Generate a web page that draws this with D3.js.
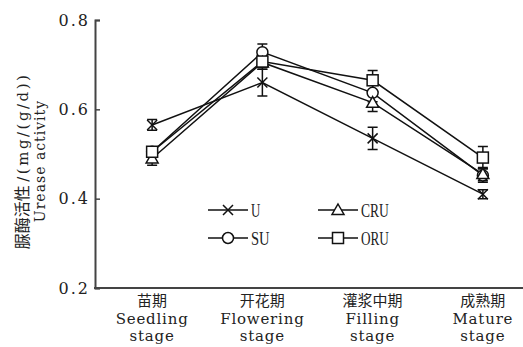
<!DOCTYPE html>
<html>
<head>
<meta charset="utf-8">
<script src="https://cdn.jsdelivr.net/npm/d3@7"></script>
<style>
  body { margin: 0; background: #fff; }
  text { fill: #222; }
</style>
</head>
<body>
<svg id="chart"></svg>
<script>
// data
const stagesCn = ["苗期", "开花期", "灌浆中期", "成熟期"];
const stagesEn1 = ["Seedling", "Flowering", "Filling", "Mature"];
const stagesEn2 = ["stage", "stage", "stage", "stage"];
const seriesNames = ["U", "SU", "CRU", "ORU"];
const valU = [0.565, 0.660, 0.535, 0.410];
const errU = [0.012, 0.030, 0.025, 0.010];
const valSU = [0.505, 0.728, 0.637, 0.452];
const errSU = [0.010, 0.018, 0.020, 0.015];
const valCRU = [0.490, 0.705, 0.615, 0.455];
const errCRU = [0.015, 0.015, 0.020, 0.015];
const valORU = [0.505, 0.707, 0.665, 0.492];
const errORU = [0.010, 0.012, 0.022, 0.025];
const yTicks = [0.2, 0.4, 0.6, 0.8];

const W = 523, H = 347;
const svg = d3.select("#chart").attr("width", W).attr("height", H);

const x = d3.scalePoint().domain(stagesCn).range([97, 538]).padding(0.5);
const y = d3.scaleLinear().domain([0.2, 0.8]).range([288, 20]);

const latin = "'DejaVu Serif', serif";
const cjk = "'Noto Sans CJK SC', sans-serif";

// axes
const yAxis = svg.append("g")
  .attr("transform", "translate(95,0)")
  .call(d3.axisLeft(y).tickValues(yTicks).tickSize(-5).tickPadding(5)
    .tickFormat(d3.format(".1f")));
yAxis.select(".domain").attr("stroke", "#444").attr("stroke-width", 2);
yAxis.selectAll(".tick line").attr("stroke", "#444").attr("stroke-width", 1.5);
yAxis.selectAll(".tick text")
  .attr("font-family", latin).attr("font-size", 16).attr("letter-spacing", 2)
  .attr("fill", "#222");

svg.append("line")
  .attr("x1", 94).attr("x2", W).attr("y1", y(0.2)).attr("y2", y(0.2))
  .attr("stroke", "#444").attr("stroke-width", 2);

// x labels
const xl = svg.append("g");
stagesCn.forEach((s, i) => {
  const cx = x(s);
  xl.append("text").attr("x", cx).attr("y", 306).attr("text-anchor", "middle")
    .attr("font-family", cjk).attr("font-size", 15).text(s);
  xl.append("text").attr("x", cx).attr("y", 324).attr("text-anchor", "middle")
    .attr("font-family", latin).attr("font-size", 15).attr("letter-spacing", 0.8).text(stagesEn1[i]);
  xl.append("text").attr("x", cx).attr("y", 341).attr("text-anchor", "middle")
    .attr("font-family", latin).attr("font-size", 15).attr("letter-spacing", 0.8).text(stagesEn2[i]);
});

// y label
const yl = svg.append("g").attr("transform", "translate(0,161) rotate(-90)");
const t1 = yl.append("text").attr("x", 0).attr("y", 28).attr("text-anchor", "middle");
t1.append("tspan").attr("font-family", cjk).attr("font-size", 16).text("脲酶活性 ");
t1.append("tspan").attr("font-family", latin).attr("font-size", 15).attr("letter-spacing", 2.5).text("/(mg/(g/d))");
yl.append("text").attr("x", 0).attr("y", 45).attr("text-anchor", "middle")
  .attr("font-family", latin).attr("font-size", 14).attr("letter-spacing", 1).text("Urease activity");

// series
const series = [
  { name: "U", vals: valU, errs: errU, shape: "x" },
  { name: "SU", vals: valSU, errs: errSU, shape: "circle" },
  { name: "CRU", vals: valCRU, errs: errCRU, shape: "triangle" },
  { name: "ORU", vals: valORU, errs: errORU, shape: "square" }
];

const line = d3.line().x((d, i) => x(stagesCn[i])).y(d => y(d));

function drawMarker(g, shape, cx, cy) {
  if (shape === "x") {
    g.append("path").attr("d", `M${cx-5},${cy-5}L${cx+5},${cy+5}M${cx-5},${cy+5}L${cx+5},${cy-5}`)
      .attr("stroke", "#111").attr("stroke-width", 1.5).attr("fill", "none");
  } else if (shape === "circle") {
    g.append("circle").attr("cx", cx).attr("cy", cy).attr("r", 5.5)
      .attr("fill", "#fff").attr("stroke", "#111").attr("stroke-width", 1.5);
  } else if (shape === "triangle") {
    g.append("path").attr("d", `M${cx},${cy-6}L${cx+6},${cy+4.5}L${cx-6},${cy+4.5}Z`)
      .attr("fill", "#fff").attr("stroke", "#111").attr("stroke-width", 1.5);
  } else {
    g.append("rect").attr("x", cx - 5.5).attr("y", cy - 5.5).attr("width", 11).attr("height", 11)
      .attr("fill", "#fff").attr("stroke", "#111").attr("stroke-width", 1.5);
  }
}

const plot = svg.append("g");
series.forEach(s => {
  plot.append("path").datum(s.vals).attr("d", line)
    .attr("fill", "none").attr("stroke", "#111").attr("stroke-width", 1.5);
});
series.forEach(s => {
  const g = plot.append("g");
  s.vals.forEach((v, i) => {
    const cx = x(stagesCn[i]);
    const y1 = y(v + s.errs[i]), y0 = y(v - s.errs[i]);
    g.append("path")
      .attr("d", `M${cx},${y1}L${cx},${y0}M${cx-5},${y1}L${cx+5},${y1}M${cx-5},${y0}L${cx+5},${y0}`)
      .attr("stroke", "#111").attr("stroke-width", 1.5).attr("fill", "none");
  });
});
series.forEach(s => {
  const g = plot.append("g");
  s.vals.forEach((v, i) => drawMarker(g, s.shape, x(stagesCn[i]), y(v)));
});

// legend
const legPos = [[208, 210], [208, 238], [318, 210], [318, 238]];
series.forEach((s, i) => {
  const [lx, ly] = legPos[i];
  const g = svg.append("g");
  g.append("line").attr("x1", lx).attr("x2", lx + 40).attr("y1", ly).attr("y2", ly)
    .attr("stroke", "#111").attr("stroke-width", 1.5);
  drawMarker(g, s.shape, lx + 20, ly);
  g.append("text").attr("x", lx + 43).attr("y", ly + 6.5)
    .attr("font-family", "'Liberation Serif', serif").attr("font-size", 19)
    .attr("textLength", s.name.length * 9.3).attr("lengthAdjust", "spacingAndGlyphs")
    .text(s.name);
});
</script>
</body>
</html>
